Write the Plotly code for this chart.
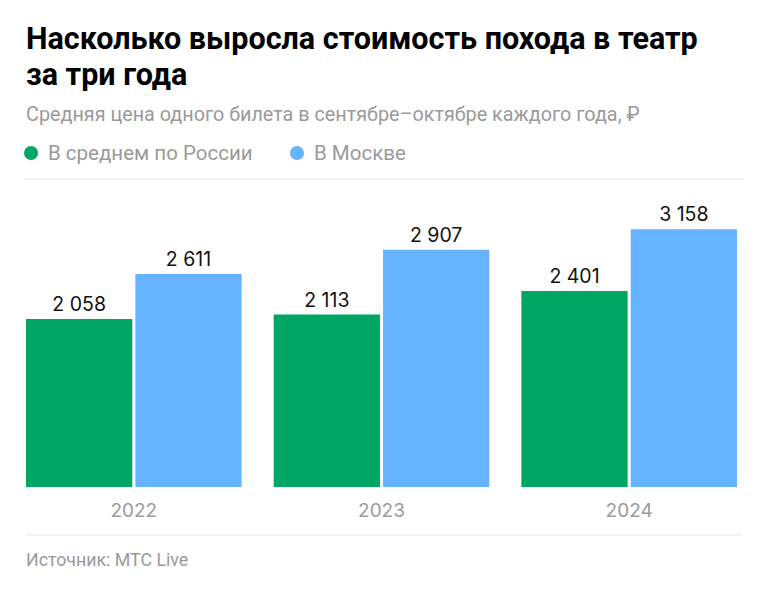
import plotly.graph_objects as go

years = ["2022", "2023", "2024"]
russia = [2058, 2113, 2401]
moscow = [2611, 2907, 3158]
series_names = ["В среднем по России", "В Москве"]
title_lines = ["Насколько выросла стоимость похода в театр", "за три года"]
subtitle = "Средняя цена одного билета в сентябре–октябре каждого года, ₽"
source = "Источник: МТС Live"

GREEN = "#00A664"
BLUE = "#66B3FF"
GRAY = "#9A9A9A"

OFF = 8  # page body margin
W, H = 768 - 2 * OFF, 590 - 2 * OFF
# plot area in page coordinates: x 10..753, y 190..487
L, R = 10 - OFF, W - (753 - OFF)
T, B = 190 - OFF, H - (487 - OFF)
PW, PH = W - L - R, H - T - B


def px(x):
    return (x - OFF - L) / PW


def py(y):
    return (H - B - (y - OFF)) / PH


def fmt(v):
    return f"{v:,}".replace(",", " ")


fig = go.Figure()
for name, vals, col in [(series_names[0], russia, GREEN), (series_names[1], moscow, BLUE)]:
    fig.add_trace(go.Bar(
        x=years, y=vals, name=name, marker=dict(color=col, line=dict(width=0)),
        text=[fmt(v) for v in vals], textposition="outside", cliponaxis=False,
        textfont=dict(family="Inter", size=19.5, color="#111111"),
        showlegend=False, hoverinfo="skip",
    ))

fig.update_layout(
    width=W, height=H,
    margin=dict(l=L, r=R, t=T, b=B),
    paper_bgcolor="white", plot_bgcolor="white",
    barmode="group", bargap=0.117, bargroupgap=0.028,
    xaxis=dict(showgrid=False, showline=False, ticks="", zeroline=False,
               ticklabelstandoff=10,
               tickfont=dict(family="Inter", size=19, color=GRAY)),
    yaxis=dict(range=[0, 3640], visible=False, showgrid=False, zeroline=False),
    font=dict(family="Roboto"),
)

annotations = []
for line, yy in zip(title_lines, (38, 74)):
    annotations.append(dict(text=line, x=px(24), y=py(yy), xref="paper", yref="paper",
                            xanchor="left", yanchor="middle", showarrow=False,
                            font=dict(family="Roboto", size=30.5, color="#000000", weight=700)))
annotations.append(dict(text=subtitle, x=px(24), y=py(114), xref="paper", yref="paper",
                        xanchor="left", yanchor="middle", showarrow=False,
                        font=dict(family="Roboto", size=19.8, color=GRAY)))
legend_x = [(46, 31), (312, 297)]
for (tx, cx), name in zip(legend_x, series_names):
    annotations.append(dict(text=name, x=px(tx), y=py(153), xref="paper", yref="paper",
                            xanchor="left", yanchor="middle", showarrow=False,
                            font=dict(family="Roboto", size=20.5, color=GRAY)))
annotations.append(dict(text=source, x=px(24), y=py(559), xref="paper", yref="paper",
                        xanchor="left", yanchor="middle", showarrow=False,
                        font=dict(family="Roboto", size=17.8, color=GRAY)))

shapes = []
for (tx, cx), col in zip(legend_x, [GREEN, BLUE]):
    shapes.append(dict(type="circle", xref="paper", yref="paper",
                       xsizemode="pixel", ysizemode="pixel",
                       xanchor=px(cx), yanchor=py(153),
                       x0=-7, x1=7, y0=-7, y1=7,
                       fillcolor=col, line=dict(width=0)))
for yy in (179, 535):
    shapes.append(dict(type="line", xref="paper", yref="paper",
                       x0=px(25), x1=px(743), y0=py(yy), y1=py(yy),
                       line=dict(color="#E3E3E3", width=1.2)))

fig.update_layout(annotations=annotations, shapes=shapes)
fig.write_html("out.html")
